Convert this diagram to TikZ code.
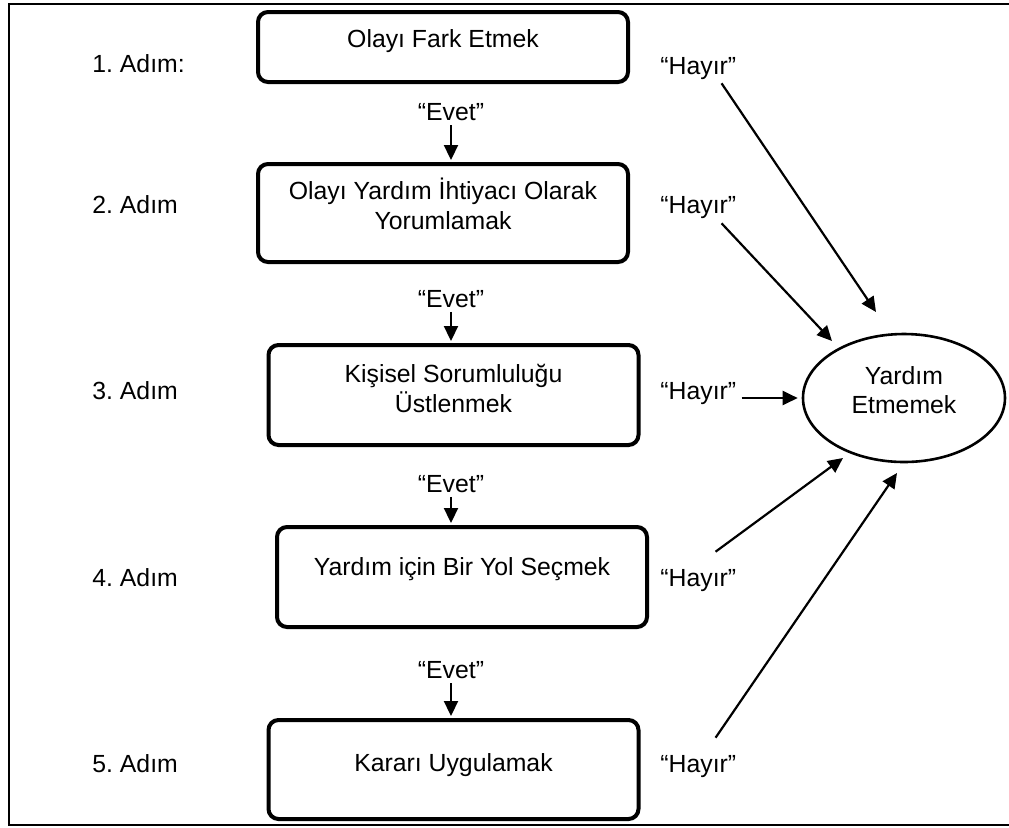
\documentclass[tikz,border=0pt]{standalone}
\usepackage{fontspec}
\setmainfont{Liberation Sans}
\usepackage{tikz}
\usetikzlibrary{arrows.meta,shapes.geometric}
\frenchspacing

\begin{document}
\begin{tikzpicture}[x=0.5pt,y=-0.5pt,
  font=\fontsize{12.4}{14.8}\selectfont,
  stepbox/.style={draw,line width=2pt,rounded corners=5pt,align=center,
    minimum width=185pt,minimum height=49pt,inner sep=0pt,
    text height=9pt,text depth=8.6pt},
  steptext/.style={inner sep=0pt,text height=8.9pt,text depth=0pt},
  outcome/.style={draw,ellipse,line width=1.3pt,align=center,
    minimum width=101pt,minimum height=64pt,inner sep=0pt,
    text height=25pt,text depth=9.3pt},
  arr/.style={line width=1.1pt,-{Triangle[length=7.5pt,width=7pt]}}]
\useasboundingbox (0,0) rectangle (1009,827);
\draw[line width=0.8pt] (9,4) rectangle (1014,825);

% adimlar
\node[steptext,anchor=west] (a1) at (92,64) {1. Adım:};
\node[steptext,anchor=west] (a2) at (92,205) {2. Adım};
\node[steptext,anchor=west] (a3) at (92,390.5) {3. Adım};
\node[steptext,anchor=west] (a4) at (92,578) {4. Adım};
\node[steptext,anchor=west] (a5) at (92,763.5) {5. Adım};

% kutular
\node[stepbox,minimum height=35pt] (b1) at (443,47) {Olayı Fark Etmek};
\node[stepbox,text height=25pt,text depth=8.8pt] (b2) at (443,213)
  {Olayı Yardım İhtiyacı Olarak\\Yorumlamak};
\node[stepbox,minimum height=50pt,text height=25pt,text depth=7.8pt] (b3) at (453.5,395)
  {Kişisel Sorumluluğu\\Üstlenmek};
\node[stepbox,minimum height=50pt,text depth=10.6pt] (b4) at (462,577)
  {Yardım için Bir Yol Seçmek};
\node[stepbox,minimum height=49.5pt,text depth=7.1pt] (b5) at (453.5,769.5)
  {Kararı Uygulamak};

\node[outcome] (o) at (904,398) {Yardım\\Etmemek};

% evet
\node[steptext] (e1) at (451,112) {“Evet”};
\node[steptext] (e2) at (451,298.5) {“Evet”};
\node[steptext] (e3) at (451,483.5) {“Evet”};
\node[steptext] (e4) at (451,670) {“Evet”};
\draw[arr,shorten <=2pt,shorten >=1pt] (e1.south) -- (e1.south |- b2.north);
\draw[arr,shorten <=2pt,shorten >=1pt] (e2.south) -- (e2.south |- b3.north);
\draw[arr,shorten <=2pt,shorten >=1pt] (e3.south) -- (e3.south |- b4.north);
\draw[arr,shorten <=2pt,shorten >=1pt] (e4.south) -- (e4.south |- b5.north);

% hayir
\node[steptext,anchor=west] (h1) at (660,66) {“Hayır”};
\node[steptext,anchor=west] (h2) at (660,205) {“Hayır”};
\node[steptext,anchor=west] (h3) at (660,391) {“Hayır”};
\node[steptext,anchor=west] (h4) at (660,578) {“Hayır”};
\node[steptext,anchor=west] (h5) at (660,764) {“Hayır”};
\draw[arr] ([shift={(-15,8)}]h1.south east) -- ([shift={(-28,-86)}]o.center);
\draw[arr] ([shift={(-15,9)}]h2.south east) -- ([shift={(-72,-57)}]o.center);
\draw[arr,shorten <=2.5pt,shorten >=2pt] (h3.east |- o.west) -- (o.west);
\draw[arr] ([shift={(-21,-17)}]h4.north east) -- ([shift={(-61,60)}]o.center);
\draw[arr] ([shift={(-21,-17)}]h5.north east) -- ([shift={(-7,75)}]o.center);
\end{tikzpicture}
\end{document}
